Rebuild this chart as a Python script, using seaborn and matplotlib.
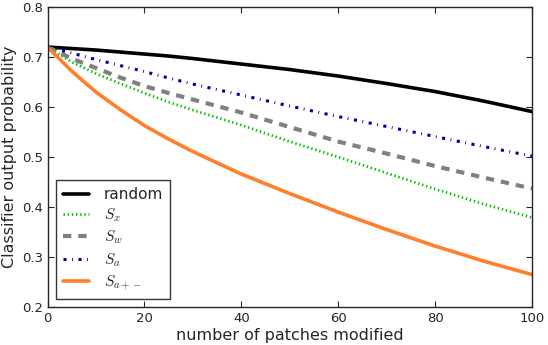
import numpy as np
import pandas as pd
import matplotlib
matplotlib.use("Agg")
import matplotlib.pyplot as plt
import seaborn as sns

patches = [0, 5, 10, 15, 20, 25, 30, 40, 50, 60, 70, 80, 90, 100]
random_p = [0.72, 0.717, 0.714, 0.710, 0.706, 0.702, 0.697, 0.686, 0.675, 0.662, 0.647, 0.631, 0.612, 0.591]
s_x = [0.72, 0.690, 0.667, 0.647, 0.628, 0.610, 0.594, 0.564, 0.531, 0.500, 0.468, 0.436, 0.406, 0.379]
s_w = [0.72, 0.697, 0.678, 0.659, 0.642, 0.628, 0.615, 0.589, 0.560, 0.531, 0.507, 0.482, 0.459, 0.437]
s_a = [0.72, 0.708, 0.695, 0.683, 0.671, 0.658, 0.646, 0.624, 0.602, 0.581, 0.561, 0.541, 0.521, 0.502]
s_apm = [0.72, 0.672, 0.630, 0.595, 0.563, 0.536, 0.511, 0.466, 0.427, 0.390, 0.355, 0.322, 0.292, 0.265]

labels = ["random", r"$S_x$", r"$S_w$", r"$S_a$", r"$S_{a+-}$"]
series = [random_p, s_x, s_w, s_a, s_apm]

sns.set_style("ticks", {"xtick.direction": "in", "ytick.direction": "in"})
plt.rcParams["font.family"] = ["DejaVu Sans"]
plt.rcParams["mathtext.fontset"] = "cm"
plt.rcParams["lines.scale_dashes"] = False

colors = ["black", "#00c000", "#808080", "#0000a0", "#ff7f2a"]
styles = ["-", (0, (1, 2)), (0, (6, 5)), (0, (2.2, 4, 0.6, 4)), "-"]
widths = [2.6, 2, 3, 2.2, 2.6]

fig = plt.figure(figsize=(5.48, 3.45), dpi=100)
ax = fig.add_axes([0.0867, 0.110, 0.884, 0.8696])

for lab, vals, c, ls, lw in zip(labels, series, colors, styles, widths):
    df = pd.DataFrame({"x": patches, "y": vals})
    sns.lineplot(data=df, x="x", y="y", ax=ax, color=c, linestyle=ls, linewidth=lw, label=lab)

ax.set_xlim(0, 100)
ax.set_ylim(0.2, 0.8)
ax.set_xticks([0, 20, 40, 60, 80, 100])
ax.set_yticks([0.2, 0.3, 0.4, 0.5, 0.6, 0.7, 0.8])
ax.tick_params(top=True, right=True, labelsize=9.5, length=4, width=0.8, pad=3.5)
ax.set_xlabel("number of patches modified", fontsize=11.5, labelpad=2)
ax.set_ylabel("Classifier output probability", fontsize=11.5, labelpad=3)
for s in ax.spines.values():
    s.set_linewidth(1)

leg = ax.legend(loc="lower left", fontsize=11, frameon=True, fancybox=False,
                handlelength=1.7, handletextpad=1.0, borderpad=0.45,
                labelspacing=0.3, borderaxespad=0.55)
leg.get_frame().set_edgecolor("black")
leg.get_frame().set_linewidth(1)

fig.savefig("out.png", dpi=100)
